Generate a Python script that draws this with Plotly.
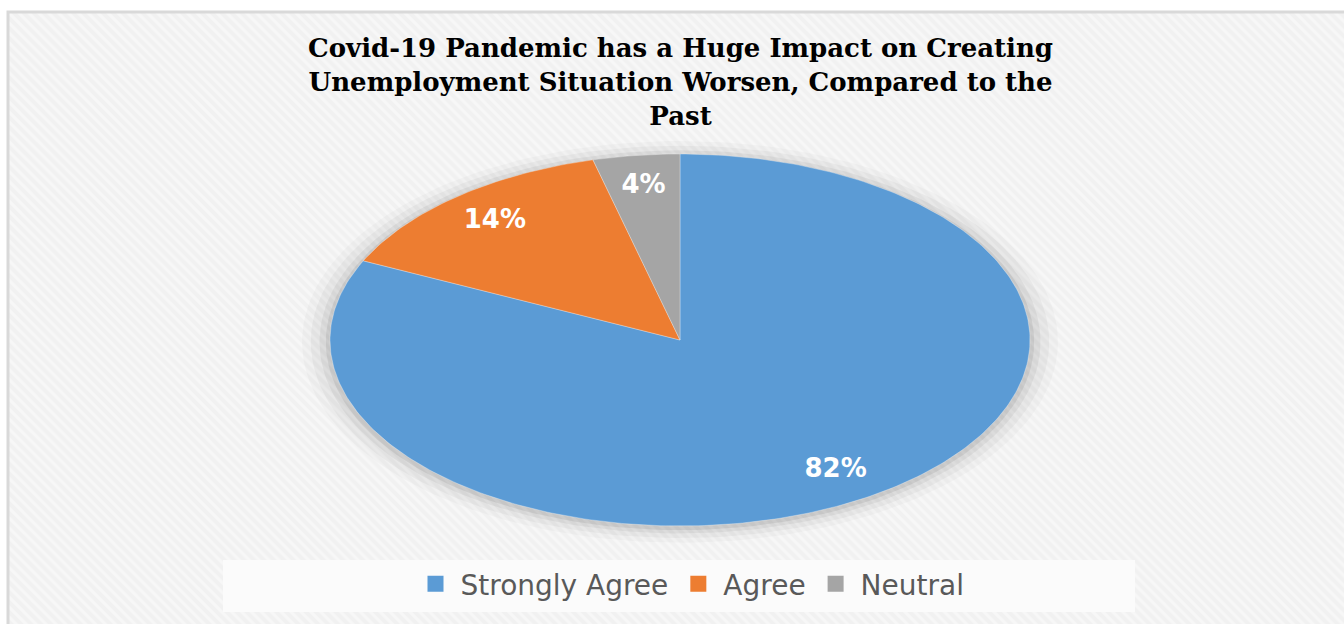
import numpy as np
import plotly.graph_objects as go

# ---- data ----
categories = ["Strongly Agree", "Agree", "Neutral"]
values = [82, 14, 4]
labels = ["82%", "14%", "4%"]
colors = ["#5B9BD5", "#ED7D31", "#A5A5A5"]
title_text = ("Covid-19 Pandemic has a Huge Impact on Creating<br>"
              "Unemployment Situation Worsen, Compared to the<br>Past")

W, H = 1344, 624
ML, MT = 8, 12
CX, CY = 680, 340     # pie centre in px
RX, RY = 350, 186     # pie radii in px

# axis ranges so that the unit circle maps to the ellipse
x_range = [-(CX - ML) / RX, (W - CX) / RX]
y_range = [-(H - CY) / RY, (CY - MT) / RY]


def px_x(p):
    return (p - ML) / (W - ML)


def px_y(p):
    return 1 - (p - MT) / (H - MT)


fig = go.Figure()

# striped background
fig.add_trace(go.Scatter(
    x=[x_range[0], x_range[1], x_range[1], x_range[0], x_range[0]],
    y=[y_range[0], y_range[0], y_range[1], y_range[1], y_range[0]],
    mode="lines", fill="toself", line=dict(width=0),
    fillcolor="#f4f4f4",
    fillpattern=dict(shape="\\", fgcolor="#fdfdfd", bgcolor="#f1f1f1",
                     size=7, solidity=0.45),
    hoverinfo="skip", showlegend=False))

# soft shadow around the pie
t = np.linspace(0, 2 * np.pi, 200)
for r, a in [(1.08, 0.025), (1.055, 0.035), (1.03, 0.05), (1.012, 0.07)]:
    fig.add_trace(go.Scatter(
        x=r * np.sin(t), y=r * np.cos(t) - 0.01, mode="lines", fill="toself",
        line=dict(width=0), fillcolor=f"rgba(0,0,0,{a})",
        hoverinfo="skip", showlegend=False))

# wedges: start at 12 o'clock, clockwise
total = sum(values)
start = 0.0
text_x, text_y = [], []
for cat, v, c in zip(categories, values, colors):
    frac = v / total
    a0, a1 = start * 2 * np.pi, (start + frac) * 2 * np.pi
    ang = np.linspace(a0, a1, max(int(frac * 400), 8))
    xs = np.concatenate([[0], np.sin(ang), [0]])
    ys = np.concatenate([[0], np.cos(ang), [0]])
    fig.add_trace(go.Scatter(
        x=xs, y=ys, mode="lines", fill="toself", fillcolor=c,
        line=dict(width=0.6, color="rgba(255,255,255,0.5)"),
        name=cat, hoverinfo="name", showlegend=False))
    mid = (a0 + a1) / 2
    text_x.append(0.83 * np.sin(mid))
    text_y.append(0.83 * np.cos(mid))
    start += frac

# data labels
fig.add_trace(go.Scatter(
    x=text_x, y=text_y, mode="text", text=labels,
    textfont=dict(family="DejaVu Sans", size=26, color="white", weight="bold"),
    hoverinfo="skip", showlegend=False))

# legend entries
for cat, c in zip(categories, colors):
    fig.add_trace(go.Scatter(
        x=[None], y=[None], mode="markers", name=cat,
        marker=dict(symbol="square", size=22, color=c)))

fig.add_annotation(
    text=title_text, xref="paper", yref="paper",
    x=px_x(CX), y=px_y(31),
    xanchor="center", yanchor="top", showarrow=False,
    font=dict(family="DejaVu Serif", size=26, color="#000000", weight="bold"),
    align="center")

# legend backdrop
fig.add_shape(type="rect", xref="paper", yref="paper", layer="above",
              x0=px_x(223), x1=px_x(1135), y0=px_y(612), y1=px_y(560),
              line=dict(width=0), fillcolor="#fbfbfb")

# chart border
fig.add_shape(type="rect", xref="paper", yref="paper",
              x0=0, x1=1.02, y0=-0.02, y1=1,
              line=dict(color="#d9d9d9", width=3), fillcolor="rgba(0,0,0,0)")

fig.update_layout(
    width=W, height=H,
    margin=dict(l=ML, r=0, t=MT, b=0),
    paper_bgcolor="white", plot_bgcolor="#f4f4f4",
    xaxis=dict(range=x_range, visible=False, fixedrange=True),
    yaxis=dict(range=y_range, visible=False, fixedrange=True),
    legend=dict(orientation="h", x=px_x(690), xanchor="center",
                y=px_y(584), yanchor="middle",
                font=dict(family="DejaVu Sans", size=28, color="#595959"),
                bgcolor="rgba(0,0,0,0)", itemwidth=40,
                entrywidth=0),
    showlegend=True,
)

fig.write_html("out.html")
